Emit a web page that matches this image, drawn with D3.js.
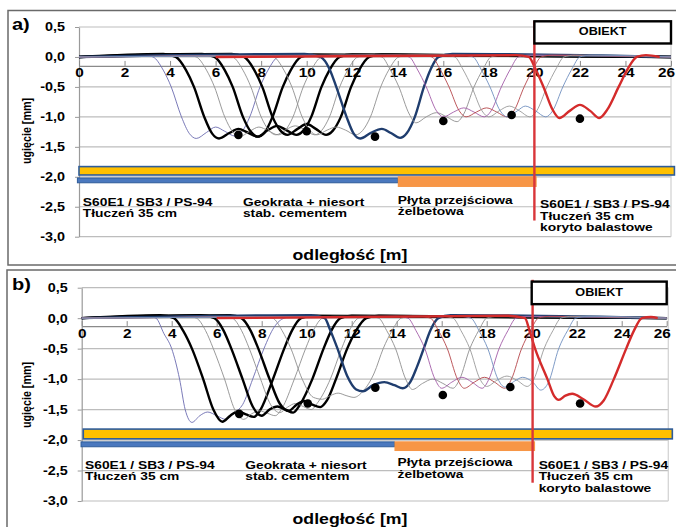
<!DOCTYPE html>
<html><head><meta charset="utf-8">
<script src="https://cdn.jsdelivr.net/npm/d3@7"></script>
<style>body{margin:0;background:#fff}svg{display:block}text{font-family:"Liberation Sans",Arial,sans-serif;font-weight:bold;fill:#000}</style>
</head><body><svg id="c" width="676" height="527"></svg>
<script>
// ---------- data ----------
const xTicks = [0,2,4,6,8,10,12,14,16,18,20,22,24,26];
const yTicks = [0.5,0,-0.5,-1,-1.5,-2,-2.5,-3];

// deflection lines, panel a)
const seriesA = [
 [[0,0],[2.7,0.04],[3.25,0],[3.7,-0.22],[4.05,-0.5],[4.5,-1.0],[4.85,-1.28],[5.15,-1.36],[5.6,-1.26],[6.0,-1.17],[6.4,-1.24],[6.85,-1.32],[7.15,-1.25],[7.5,-1.0],[7.95,-0.5],[8.3,-0.22],[8.75,0],[9.3,0.03],[26,0]],
 [[0,0],[3.7,0.05],[4.25,0],[4.7,-0.22],[5.05,-0.5],[5.5,-1.0],[5.85,-1.28],[6.15,-1.36],[6.6,-1.27],[7.0,-1.2],[7.4,-1.26],[7.85,-1.33],[8.15,-1.26],[8.5,-1.0],[8.95,-0.5],[9.3,-0.22],[9.75,0],[10.3,0.04],[26,0]],
 [[0,0],[4.6,0.04],[5.15,0],[5.6,-0.22],[5.95,-0.5],[6.4,-1.0],[6.75,-1.25],[7.05,-1.33],[7.5,-1.24],[7.9,-1.17],[8.3,-1.23],[8.75,-1.3],[9.05,-1.23],[9.4,-1.0],[9.85,-0.5],[10.2,-0.22],[10.65,0],[11.2,0.03],[26,0]],
 [[0,0],[5.4,0.05],[5.95,0],[6.4,-0.22],[6.75,-0.5],[7.2,-1.0],[7.55,-1.25],[7.85,-1.33],[8.3,-1.22],[8.7,-1.15],[9.1,-1.22],[9.55,-1.3],[9.85,-1.23],[10.2,-1.0],[10.65,-0.5],[11.0,-0.22],[11.45,0],[12.0,0.04],[26,0]],
 [[0,0],[6.2,0.04],[6.75,0],[7.2,-0.22],[7.55,-0.5],[8.0,-1.0],[8.35,-1.23],[8.65,-1.3],[9.1,-1.21],[9.5,-1.15],[9.9,-1.21],[10.35,-1.3],[10.65,-1.23],[11.0,-1.0],[11.45,-0.5],[11.8,-0.22],[12.25,0],[12.8,0.03],[26,0]],
 [[0,0],[6.7,0.05],[7.25,0],[7.7,-0.22],[8.05,-0.5],[8.5,-1.0],[8.85,-1.23],[9.15,-1.3],[9.6,-1.2],[10.0,-1.12],[10.4,-1.2],[10.85,-1.3],[11.15,-1.23],[11.5,-1.0],[11.95,-0.5],[12.3,-0.22],[12.75,0],[13.3,0.04],[26,0]],
 [[0,0],[8.0,0.04],[8.55,0],[9.0,-0.22],[9.35,-0.5],[9.8,-1.0],[10.15,-1.23],[10.45,-1.3],[10.9,-1.22],[11.3,-1.17],[11.7,-1.22],[12.15,-1.3],[12.45,-1.23],[12.8,-1.0],[13.25,-0.5],[13.6,-0.22],[14.05,0],[14.6,0.03],[26,0]],
 [[0,0],[9.9,0.05],[10.6,0],[11.0,-0.2],[11.3,-0.5],[11.75,-1.0],[12.05,-1.27],[12.35,-1.36],[12.8,-1.27],[13.3,-1.2],[13.7,-1.27],[14.1,-1.35],[14.4,-1.27],[14.75,-1.0],[15.15,-0.5],[15.45,-0.2],[15.8,0],[16.4,0.05],[26,0]],
 [[0,0],[12.8,0.03],[13.3,0],[13.65,-0.2],[14.05,-0.5],[14.5,-0.95],[14.8,-1.1],[15.25,-1.0],[15.7,-0.93],[16.15,-1.0],[16.6,-1.08],[16.9,-0.95],[17.35,-0.5],[17.75,-0.2],[18.1,0],[18.6,0.03],[26,0]],
 [[0,0],[14.0,0.03],[14.5,0],[14.85,-0.2],[15.25,-0.5],[15.7,-0.9],[16.0,-1.0],[16.45,-0.92],[16.9,-0.85],[17.35,-0.92],[17.8,-1.0],[18.1,-0.9],[18.55,-0.5],[18.95,-0.2],[19.3,0],[19.8,0.03],[26,0]],
 [[0,0],[15.0,0.03],[15.5,0],[15.85,-0.2],[16.25,-0.5],[16.7,-0.9],[17.0,-1.0],[17.45,-0.92],[17.9,-0.85],[18.35,-0.92],[18.8,-1.0],[19.1,-0.9],[19.55,-0.5],[19.95,-0.2],[20.3,0],[20.8,0.03],[26,0]],
 [[0,0],[16.0,0.03],[16.5,0],[16.85,-0.2],[17.25,-0.5],[17.7,-0.9],[18.0,-1.0],[18.45,-0.9],[18.9,-0.82],[19.35,-0.9],[19.8,-1.0],[20.1,-0.9],[20.55,-0.5],[20.95,-0.2],[21.3,0],[21.8,0.03],[26,0]],
 [[0,0],[16.8,0.03],[17.3,0],[17.65,-0.2],[18.05,-0.5],[18.5,-0.9],[18.8,-1.0],[19.25,-0.9],[19.6,-0.82],[20.05,-0.9],[20.5,-1.0],[20.8,-0.9],[21.25,-0.5],[21.65,-0.2],[22.0,0],[22.5,0.03],[26,0]],
 [[6,0],[19.2,0.03],[19.75,0],[20.05,-0.2],[20.4,-0.5],[20.8,-0.88],[21.1,-1.02],[21.55,-0.9],[22.0,-0.8],[22.45,-0.9],[22.85,-1.02],[23.2,-0.88],[23.7,-0.5],[24.1,-0.2],[24.5,0],[24.9,0.03],[25.5,0]]
];

// deflection lines, panel b)
const seriesB = [
 [[0,0],[2.8,0.04],[3.3,0],[3.65,-0.25],[4.0,-0.5],[4.35,-1.0],[4.6,-1.5],[4.9,-1.71],[5.25,-1.6],[5.6,-1.54],[6.0,-1.6],[6.4,-1.66],[6.8,-1.55],[7.15,-1.42],[7.6,-1.0],[8.1,-0.5],[8.55,-0.15],[9.0,0],[9.5,0.03],[26,0]],
 [[0,0],[3.5,0.05],[4.1,0],[4.5,-0.2],[4.9,-0.5],[5.4,-1.0],[5.85,-1.5],[6.25,-1.7],[6.6,-1.6],[6.95,-1.53],[7.3,-1.58],[7.65,-1.62],[7.95,-1.5],[8.5,-1.0],[9.0,-0.5],[9.35,-0.2],[9.75,0],[10.3,0.04],[26,0]],
 [[0,0],[4.6,0.04],[5.1,0],[5.5,-0.2],[5.85,-0.5],[6.35,-1.0],[6.8,-1.5],[7.2,-1.66],[7.55,-1.57],[7.9,-1.52],[8.25,-1.56],[8.6,-1.6],[8.9,-1.48],[9.45,-1.0],[9.95,-0.5],[10.3,-0.2],[10.7,0],[11.2,0.03],[26,0]],
 [[0,0],[5.3,0.05],[5.9,0],[6.3,-0.2],[6.65,-0.5],[7.15,-1.0],[7.6,-1.45],[8.0,-1.6],[8.35,-1.5],[8.7,-1.45],[9.05,-1.5],[9.4,-1.55],[9.7,-1.42],[10.25,-1.0],[10.75,-0.5],[11.1,-0.2],[11.5,0],[12.0,0.04],[26,0]],
 [[0,0],[6.2,0.04],[6.7,0],[7.1,-0.2],[7.45,-0.5],[7.95,-1.0],[8.4,-1.42],[8.8,-1.55],[9.15,-1.46],[9.5,-1.4],[9.85,-1.45],[10.2,-1.5],[10.5,-1.38],[11.05,-1.0],[11.55,-0.5],[11.9,-0.2],[12.3,0],[12.8,0.03],[26,0]],
 [[0,0],[6.6,0.05],[7.1,0],[7.5,-0.2],[7.85,-0.5],[8.35,-1.0],[8.8,-1.4],[9.2,-1.52],[9.55,-1.42],[9.9,-1.36],[10.25,-1.42],[10.6,-1.46],[10.9,-1.35],[11.3,-1.0],[11.8,-0.5],[12.2,-0.2],[12.65,0],[13.2,0.04],[26,0]],
 [[0,0],[8.0,0.04],[8.5,0],[8.9,-0.2],[9.3,-0.5],[9.8,-1.0],[10.3,-1.3],[10.7,-1.33],[11.05,-1.27],[11.4,-1.23],[11.75,-1.27],[12.1,-1.3],[12.5,-1.2],[13.0,-0.9],[13.4,-0.5],[13.8,-0.2],[14.2,0],[14.7,0.03],[26,0]],
 [[0,0],[10.2,0.05],[10.8,0],[11.05,-0.2],[11.37,-0.5],[11.8,-0.95],[12.2,-1.17],[12.5,-1.2],[12.95,-1.1],[13.45,-1.05],[13.9,-1.1],[14.27,-1.15],[14.6,-1.05],[14.9,-0.8],[15.2,-0.5],[15.5,-0.2],[15.85,0],[16.4,0.05],[26,0]],
 [[0,0],[12.7,0.03],[13.2,0],[13.55,-0.2],[13.95,-0.5],[14.4,-1.0],[14.7,-1.17],[15.15,-1.07],[15.6,-1.0],[16.05,-1.07],[16.5,-1.15],[16.8,-1.0],[17.25,-0.5],[17.65,-0.2],[18.0,0],[18.5,0.03],[26,0]],
 [[0,0],[14.0,0.03],[14.5,0],[14.85,-0.2],[15.25,-0.5],[15.7,-1.0],[16.0,-1.15],[16.45,-1.05],[16.9,-0.97],[17.35,-1.05],[17.8,-1.15],[18.1,-1.0],[18.55,-0.5],[18.95,-0.2],[19.3,0],[19.8,0.03],[26,0]],
 [[0,0],[15.0,0.03],[15.5,0],[15.85,-0.2],[16.25,-0.5],[16.7,-1.0],[17.0,-1.15],[17.45,-1.05],[17.9,-0.97],[18.35,-1.05],[18.8,-1.15],[19.1,-1.0],[19.55,-0.5],[19.95,-0.2],[20.3,0],[20.8,0.03],[26,0]],
 [[0,0],[16.0,0.03],[16.5,0],[16.85,-0.2],[17.25,-0.5],[17.7,-1.0],[18.0,-1.12],[18.45,-1.02],[18.9,-0.95],[19.35,-1.02],[19.8,-1.12],[20.1,-1.0],[20.55,-0.5],[20.95,-0.2],[21.3,0],[21.8,0.03],[26,0]],
 [[0,0],[16.8,0.03],[17.3,0],[17.65,-0.2],[18.05,-0.5],[18.5,-1.0],[18.8,-1.13],[19.25,-1.03],[19.6,-0.97],[20.05,-1.05],[20.4,-1.18],[20.75,-1.05],[21.2,-0.5],[21.6,-0.2],[21.95,0],[22.5,0.03],[26,0]],
 [[6,0],[18.9,0.04],[19.7,0],[19.9,-0.2],[20.15,-0.5],[20.7,-1.0],[21.0,-1.28],[21.2,-1.34],[21.5,-1.27],[21.8,-1.24],[22.3,-1.33],[22.85,-1.45],[23.2,-1.35],[23.65,-1.0],[24.2,-0.5],[24.55,-0.2],[24.9,0],[25.3,0.02],[25.6,0]]
];

// measured points
const dotXA = [7,10,13,16,19,22];
const dotYA = [-1.3,-1.24,-1.33,-1.07,-0.97,-1.03];
const dotXB = [7,10.05,13.05,16.05,19.05,22.15];
const dotYB = [-1.57,-1.4,-1.14,-1.26,-1.13,-1.4];

// structure layers [x0, x1, yTop, yBottom]
const layersA = [[-0.07,14,-2.02,-2.1],[14,20.1,-1.99,-2.17],[0,26.15,-1.83,-1.97]];
const layersB = [[-0.03,13.9,-2.03,-2.11],[13.9,20.15,-2.02,-2.18],[0.07,26.25,-1.82,-1.98]];

// zone descriptions
const zoneText = [
 ["S60E1 / SB3 / PS-94","Tłuczeń 35 cm"],
 ["Geokrata + niesort","stab. cementem"],
 ["Płyta przejściowa","żelbetowa"],
 ["S60E1 / SB3 / PS-94","Tłuczeń 35 cm","koryto balastowe"]
];
const zoneXA = [0.17,7.2,14.0,20.25], zoneYA = [-2.48,-2.48,-2.45,-2.52];
const zoneXB = [0.15,7.27,14.04,20.31], zoneYB = [-2.47,-2.47,-2.43,-2.47];
const objectLabel = "OBIEKT";
const xTitle = "odległość [m]", yTitle = "ugięcie [mm]";
const panelNames = ["a)","b)"];

// ---------- styles ----------
const seriesStyle = [
 {c:"#6B6BB0",w:0.9},{c:"#000",w:2.4},{c:"#8E8E8E",w:0.9},{c:"#000",w:2.4},
 {c:"#8E8E8E",w:0.9},{c:"#000",w:2.4},{c:"#8E8E8E",w:0.9},{c:"#1F3D6E",w:2.4},
 {c:"#8E8E8E",w:0.9},{c:"#A35CA8",w:0.9},{c:"#B5464B",w:0.9},{c:"#9A9A9A",w:0.9},
 {c:"#7090C0",w:0.9},{c:"#D42B2B",w:2.4}
];
const layerStyle = [
 {fill:"#4A78BE",stroke:"#2E5C9A",sw:1},
 {fill:"#F79646",stroke:"none",sw:0},
 {fill:"#FFC000",stroke:"#2E5C9A",sw:1.6}
];

const svg = d3.select("#c");

function txt(g, x, y, s, size, sx, anchor){
  return g.append("text")
    .attr("transform", `translate(${x},${y}) scale(${sx},1)`)
    .attr("text-anchor", anchor || "start")
    .style("font-size", size + "px")
    .text(s);
}

function panel(cfg){
  const g = svg.append("g");
  const x = d3.scaleLinear().domain([0,26]).range(cfg.xr);
  const y = d3.scaleLinear().domain([-3,0.5]).range(cfg.yr);

  // frame
  g.append("rect").attr("x",cfg.frame[0]).attr("y",cfg.frame[1])
    .attr("width",cfg.frame[2]).attr("height",cfg.frame[3])
    .attr("fill","none").attr("stroke","#6a6a6a").attr("stroke-width",1.5);

  // gridlines
  g.append("g").selectAll("line").data(yTicks).join("line")
    .attr("x1",x(0)).attr("x2",x(cfg.right)).attr("y1",d=>y(d)).attr("y2",d=>y(d))
    .attr("stroke","#bdbdbd").attr("stroke-width",1.2);
  g.append("line").attr("x1",x(cfg.right)).attr("x2",x(cfg.right))
    .attr("y1",y(0.5)).attr("y2",y(-3)).attr("stroke","#d0d0d0").attr("stroke-width",1.2);

  // y axis
  const ya = g.append("g").attr("transform",`translate(${x(0)},0)`)
    .call(d3.axisLeft(y).tickValues(yTicks).tickSize(4).tickSizeOuter(0).tickPadding(10)
      .tickFormat(v => d3.format(".1f")(v).replace(".",",").replace("\u2212","-")));
  ya.select(".domain").attr("stroke","#9a9a9a").attr("stroke-width",1.2);
  ya.selectAll(".tick line").attr("stroke","#9a9a9a");
  ya.selectAll("text").attr("x",0).attr("transform","translate(-14,0) scale(1.2,1)")
    .style("font-size","12px").style("font-family","Liberation Sans, Arial, sans-serif").style("font-weight","bold");

  // x axis
  const xa = g.append("g").attr("transform",`translate(0,${y(cfg.axisY)})`)
    .call(d3.axisBottom(x).tickValues(xTicks).tickSize(-5).tickSizeOuter(0).tickPadding(3));
  xa.select(".domain").attr("stroke","#8a8a8a").attr("stroke-width",1.2);
  xa.selectAll(".tick line").attr("stroke","#8a8a8a");
  xa.selectAll("text")
    .attr("transform",(d,i)=> i===xTicks.length-1 ? "translate(-5,0) scale(1.28,1)" : "scale(1.28,1)")
    .style("font-size","12px").style("font-family","Liberation Sans, Arial, sans-serif").style("font-weight","bold");

  // layers
  g.append("g").selectAll("rect").data(cfg.layers).join("rect")
    .attr("x",d=>x(d[0])).attr("width",d=>x(d[1])-x(d[0]))
    .attr("y",d=>y(d[2])).attr("height",d=>y(d[3])-y(d[2]))
    .attr("fill",(d,i)=>layerStyle[i].fill).attr("stroke",(d,i)=>layerStyle[i].stroke)
    .attr("stroke-width",(d,i)=>layerStyle[i].sw);

  // curves
  const line = d3.line().x(d=>x(d[0])).y(d=>y(d[1])).curve(d3.curveMonotoneX);
  g.append("g").selectAll("path").data(cfg.series).join("path")
    .attr("d",line).attr("fill","none")
    .attr("stroke",(d,i)=>seriesStyle[i].c).attr("stroke-width",(d,i)=>seriesStyle[i].w)
    .attr("stroke-linejoin","round");

  // object boundary
  g.append("line").attr("x1",x(cfg.redX)).attr("x2",x(cfg.redX))
    .attr("y1",y(cfg.redY[0])).attr("y2",y(cfg.redY[1]))
    .attr("stroke","#D9363A").attr("stroke-width",2.4);
  g.append("rect").attr("x",x(cfg.box[0])).attr("y",y(cfg.box[2]))
    .attr("width",x(cfg.box[1])-x(cfg.box[0])).attr("height",y(cfg.box[3])-y(cfg.box[2]))
    .attr("fill","#fff").attr("stroke","#000").attr("stroke-width",2.4);
  txt(g,(x(cfg.box[0])+x(cfg.box[1]))/2, y(cfg.box[2])+cfg.boxTextDy, objectLabel, 11.5, 1.1, "middle");

  // dots
  g.append("g").selectAll("circle").data(cfg.dotX).join("circle")
    .attr("cx",d=>x(d)).attr("cy",(d,i)=>y(cfg.dotY[i])).attr("r",4.3).attr("fill","#000");

  // zone texts
  zoneText.forEach((lines,k)=>{
    lines.forEach((s,j)=>{
      txt(g, x(cfg.zoneX[k]), y(cfg.zoneY[k]) + j*11.6, s, 11.5, 1.2, "start");
    });
  });

  // titles
  txt(g, cfg.xTitlePos[0], cfg.xTitlePos[1], xTitle, 14.5, 1.22, "middle");
  g.append("text")
    .attr("transform",`translate(${cfg.yTitlePos[0]},${cfg.yTitlePos[1]}) rotate(-90) scale(0.86,1)`)
    .attr("text-anchor","middle").style("font-size","12.5px").text(yTitle);
  txt(g, cfg.namePos[0], cfg.namePos[1], cfg.name, 16, 1.25, "start");
}

panel({
  xr:[79,671], yr:[236.7,27], right:26, axisY:-0.15,
  frame:[8,10.5,700,254.5],
  series:seriesA, dotX:dotXA, dotY:dotYA, layers:layersA,
  zoneX:zoneXA, zoneY:zoneYA,
  redX:20, redY:[0.6,-2.73], box:[20,26,0.595,0.225], boxTextDy:14,
  xTitlePos:[350,260], yTitlePos:[31,131], namePos:[12,30], name:panelNames[0]
});
panel({
  xr:[81.7,666.7], yr:[501,287.7], right:26.07, axisY:-0.13,
  frame:[7,270,700,280],
  series:seriesB, dotX:dotXB, dotY:dotYB, layers:layersB,
  zoneX:zoneXB, zoneY:zoneYB,
  redX:20.04, redY:[0.63,-2.7], box:[20.0,26.0,0.6,0.23], boxTextDy:14,
  xTitlePos:[350,524], yTitlePos:[31,395], namePos:[12,290], name:panelNames[1]
});
</script>
</body></html>
